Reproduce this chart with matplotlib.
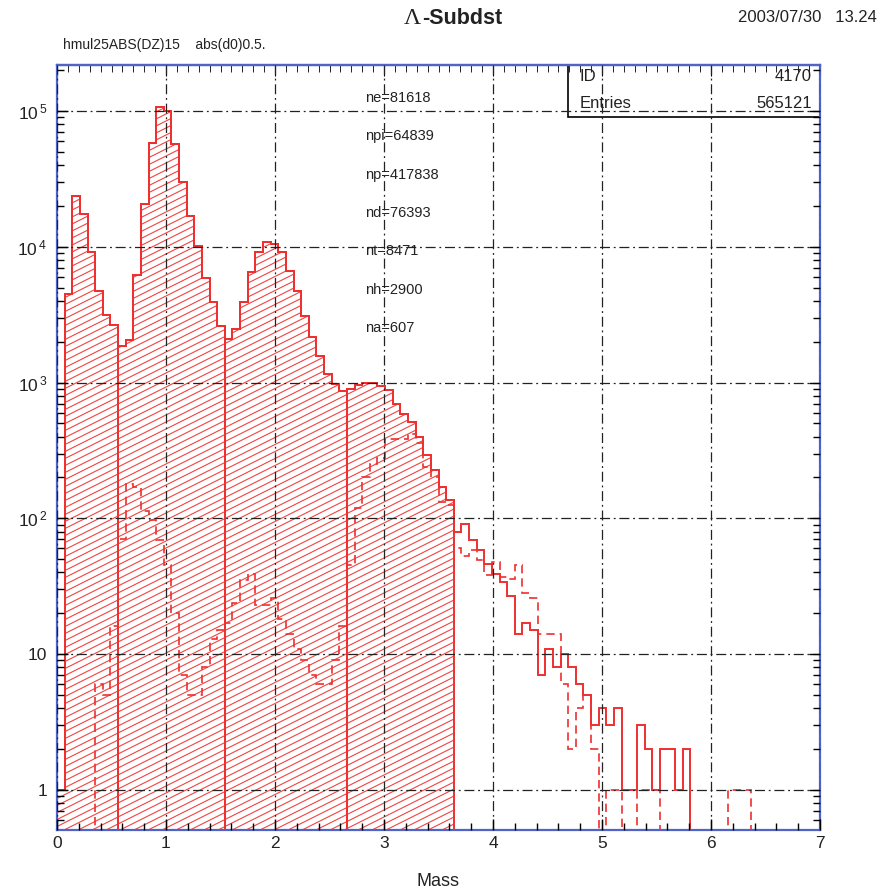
import numpy as np
import matplotlib
matplotlib.use("Agg")
import matplotlib.pyplot as plt
from matplotlib.patches import Polygon, Rectangle
from matplotlib.collections import LineCollection
from matplotlib.ticker import FixedLocator, MultipleLocator, LogLocator, NullFormatter

plt.rcParams['font.family'] = ['Liberation Sans', 'DejaVu Sans']
plt.rcParams['mathtext.fontset'] = 'custom'
plt.rcParams['mathtext.rm'] = 'Liberation Sans'

BIN_WIDTH = 0.07
N_BINS = 100

# all tracks (solid line, hatched inside the mass windows)
counts = np.array([
    1, 4500, 23500, 17500, 9200, 4750, 3150, 2650, 1850, 2050,
    6200, 20500, 58500, 107000, 100000, 57500, 30200, 16900, 10200, 5900,
    3900, 2600, 2090, 2480, 3890, 6470, 9080, 10900, 10400, 9080,
    6660, 4750, 3080, 2150, 1580, 1150, 980, 870, 900, 960,
    1000, 990, 950, 875, 700, 590, 513, 400, 292, 226,
    171, 136, 79, 91, 69, 58, 46, 39, 34, 27,
    14, 17, 15, 7, 11, 8, 10, 8, 6, 5,
    3, 4, 3, 4, 1, 1, 3, 2, 1, 2,
    2, 1, 2, 0, 0, 0, 0, 0, 0, 0,
    0, 0, 0, 0, 0, 0, 0, 0, 0, 0,
])

# second selection (dashed line)
counts_cut = np.array([
    0, 0, 0, 0, 0, 6, 5, 16, 70, 180,
    170, 114, 97, 69, 45, 20, 7, 5, 5, 8,
    13, 15, 17, 24, 35, 39, 23, 23, 26, 18,
    14, 11, 9, 7, 6, 6, 9, 16, 45, 120,
    200, 250, 280, 385, 385, 385, 420, 360, 240, 200,
    132, 125, 61, 53, 58, 49, 38, 48, 37, 36,
    45, 28, 26, 14, 14, 14, 6, 2, 4, 5,
    2, 0, 1, 1, 0, 0, 1, 1, 1, 0,
    0, 0, 0, 0, 0, 0, 0, 0, 1, 1,
    1, 0, 0, 0, 0, 0, 0, 0, 0, 0,
])

# bin-edge indices bounding the hatched mass windows (pi, p, d, t)
WINDOWS = [0, 8, 22, 38, 52]

part_labels = ["ne=81618", "npi=64839", "np=417838", "nd=76393",
               "nt=8471", "nh=2900", "na=607"]

hist_id = "4170"
entries = "565121"

RED = "#ee3030"
BLUE = "#5064c8"
INK = "#222222"
FLOOR = 0.1

edges = np.arange(N_BINS + 1) * BIN_WIDTH


def floored(v):
    return np.where(v > 0, v, FLOOR).astype(float)


fig = plt.figure(figsize=(8.83, 8.91), dpi=100)
ax = fig.add_axes([57 / 883, 61 / 891, 763 / 883, 765 / 891])
ax.set_yscale("log")

# hatch lines in axes coords, clipped to each window outline
slope = 0.5 * 763 / 765
gap = 7 / 765
segs = [[(0, c), (1, c + slope)] for c in np.arange(-slope, 1, gap)]

for a, b in zip(WINDOWS[:-1], WINDOWS[1:]):
    xs = np.repeat(edges[a:b + 1], 2)[1:-1]
    ys = np.repeat(floored(counts[a:b]), 2)
    verts = [(edges[a], FLOOR)] + list(zip(xs, ys)) + [(edges[b], FLOOR)]
    poly = Polygon(verts, closed=True, fc="none", ec=RED, lw=1.4)
    ax.add_patch(poly)
    lc = LineCollection(segs, colors=RED, lw=0.8, alpha=0.9,
                        transform=ax.transAxes)
    ax.add_collection(lc, autolim=False)
    lc.set_clip_path(poly)

ax.stairs(floored(counts), edges, color=RED, lw=1.4, baseline=None)
ax.stairs(floored(counts_cut), edges, color=RED, lw=1.2,
          linestyle=(0, (5, 3)), baseline=None)

ax.set_xlim(0, 7)
ax.set_ylim(0.507, 2.18e5)

ax.grid(True, which="major", color=INK, lw=0.9, linestyle=(0, (8, 3, 1.5, 3)))
ax.set_axisbelow(False)

ax.xaxis.set_major_locator(MultipleLocator(1))
ax.xaxis.set_minor_locator(MultipleLocator(0.2))
ax.yaxis.set_major_locator(FixedLocator([1, 10, 100, 1e3, 1e4, 1e5]))
ax.yaxis.set_minor_locator(LogLocator(base=10, subs=np.arange(2, 10)))
ax.yaxis.set_minor_formatter(NullFormatter())
ax.set_yticklabels(["1", "10", r"$\mathregular{10^{\,2}}$", r"$\mathregular{10^{\,3}}$",
                    r"$\mathregular{10^{\,4}}$", r"$\mathregular{10^{\,5}}$"])

ax.tick_params(which="both", direction="in", right=True, top=False,
               color="black", labelcolor=INK, labelsize=12.5)
ax.tick_params(which="major", length=8, width=1)
ax.tick_params(which="minor", length=5, width=1)
ax.tick_params(axis="y", pad=7)
ax.tick_params(axis="x", pad=4)

top = ax.secondary_xaxis("top")
top.xaxis.set_major_locator(MultipleLocator(1))
top.xaxis.set_minor_locator(MultipleLocator(0.1))
top.tick_params(which="both", direction="in", labeltop=False, color="black")
top.tick_params(which="major", length=8)
top.tick_params(which="minor", length=5)
top.spines["top"].set_color(BLUE)
top.spines["top"].set_linewidth(1.6)

for sp in ax.spines.values():
    sp.set_color(BLUE)
    sp.set_linewidth(1.6)

ax.set_xlabel("Mass", fontsize=13, color=INK, labelpad=16)

# stats box
ax.add_patch(Rectangle((0.6697, 0.932), 0.3303, 0.068, transform=ax.transAxes,
                       fill=False, ec="black", lw=1.2, clip_on=False))
ax.text(0.685, 0.9856, "ID", transform=ax.transAxes, fontsize=12, color=INK, va="center")
ax.text(0.9895, 0.9856, hist_id, transform=ax.transAxes, fontsize=12, color=INK,
        va="center", ha="right")
ax.text(0.685, 0.950, "Entries", transform=ax.transAxes, fontsize=12, color=INK, va="center")
ax.text(0.9895, 0.950, entries, transform=ax.transAxes, fontsize=12, color=INK,
        va="center", ha="right")

# particle counts
for i, lab in enumerate(part_labels):
    ypix = 98 + i * 38.3
    ax.text(0.4037, (830 - ypix) / 765, lab, transform=ax.transAxes,
            fontsize=10.5, color=INK, va="center")

fig.text(421 / 883, 1 - 18 / 891, "Λ", family="Liberation Serif", fontsize=17,
         color=INK, va="center", ha="right")
fig.text(422 / 883, 1 - 18 / 891, "-Subdst", fontsize=15.5, weight="bold",
         color=INK, va="center", ha="left")
fig.text(877 / 883, 1 - 18 / 891, "2003/07/30   13.24", fontsize=12,
         color=INK, va="center", ha="right")
fig.text(63 / 883, 1 - 45 / 891, "hmul25ABS(DZ)15    abs(d0)0.5.", fontsize=10,
         color=INK, va="center", ha="left")

fig.savefig("out.png", dpi=100)
